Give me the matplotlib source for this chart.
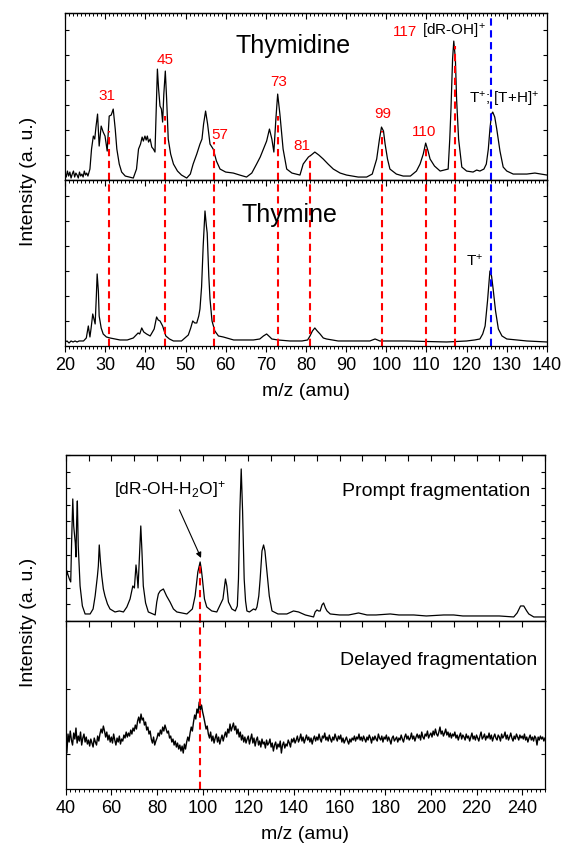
# ---------------------------------------------------------------------
# Mass spectra of thymidine / thymine and prompt / delayed fragmentation
# ---------------------------------------------------------------------

import matplotlib.pyplot as plt
import numpy as np
from matplotlib.ticker import MultipleLocator, FixedLocator, NullLocator

plt.rcParams['font.family'] = ['Liberation Sans', 'DejaVu Sans']
plt.rcParams['mathtext.fontset'] = 'custom'
plt.rcParams['mathtext.rm'] = 'Liberation Sans'
plt.rcParams['mathtext.it'] = 'Liberation Sans:italic'

# ---------------------------------------------------------------------
# DATA (intensity in arbitrary units)
# ---------------------------------------------------------------------

thymidine_mz = [20.0, 20.3, 20.6, 20.9, 21.2, 21.5, 21.8, 22.1, 22.4, 22.7, 23.0, 23.3, 23.6,
                23.9, 24.2, 24.5, 24.8, 25.1, 25.4, 25.7, 26.0,
                26.2, 26.6, 27.05, 27.4, 27.7, 28.1, 28.5, 29.0, 29.5, 29.96, 30.5, 31.0, 31.5,
                32.0, 32.5, 32.9, 33.5, 34.1, 35.0, 37.0, 37.8, 38.3, 38.8, 39.2, 39.5, 39.9,
                40.2, 40.5, 40.8, 41.2, 41.6, 42.0, 42.4, 42.7, 43.0, 43.3, 43.65, 44.0, 44.3,
                44.6, 44.97, 45.3, 45.7, 46.3, 47.0, 48.0, 49.0, 50.3, 51.2, 51.9, 52.8, 53.6,
                54.1, 54.5, 55.0, 55.5, 56.1, 56.9, 57.7, 58.6, 60.0, 61.9, 63.5, 65.2, 66.5,
                67.7, 68.6, 69.4, 70.2, 70.9, 71.5, 72.0, 72.5, 72.95, 73.5, 74.3, 75.2, 76.5,
                78.5, 79.3, 80.6, 81.3, 82.2, 83.2, 84.3, 85.5, 86.8, 88.5, 90.1, 93.0, 95.1,
                96.5, 97.6, 98.3, 98.8, 99.3, 99.7, 100.3, 100.9, 102.5, 104.2, 106.0, 107.5,
                108.4, 109.2, 109.8, 110.4, 110.9, 112.0, 113.4, 115.4, 115.8, 116.1, 116.5,
                116.8, 117.2, 117.5, 118.0, 118.8, 120.0, 121.6, 122.5, 123.3, 124.3, 124.9,
                125.4, 125.8, 126.2, 126.5, 127.0, 127.5, 128.3, 129.1, 130.0, 131.6, 135.0,
                137.0, 140.0]
thymidine_int = [7, 3, 9, 4, 8, 2, 6, 9, 3, 7, 5, 2, 8,
                 4, 6, 3, 9, 5, 7, 4, 8,
                 11, 31, 44, 41, 53, 66, 34, 54, 48, 44, 29, 64, 65,
                 71, 51, 31, 16, 8, 4, 2, 11, 31, 36, 43, 39, 44,
                 40, 44, 38, 41, 33, 31, 28, 71, 111, 91, 74, 71, 58,
                 86, 109, 81, 41, 26, 16, 9, 5, 2, 6, 16, 26, 36,
                 41, 56, 69, 56, 36, 31, 19, 11, 8, 7, 5, 3, 7,
                 16, 23, 31, 39, 51, 41, 28, 61, 86, 66, 31, 11, 7,
                 5, 16, 23, 25, 28, 25, 21, 16, 11, 7, 5, 3, 3,
                 6, 21, 41, 53, 49, 36, 21, 11, 6, 4, 4, 9,
                 16, 26, 37, 29, 21, 14, 9, 11, 41, 71, 121,
                 139, 121, 81, 41, 13, 9, 8, 10, 9, 11, 16,
                 31, 51, 66, 68, 63, 51, 29, 13, 9, 6, 6,
                 7, 5]

thymine_mz = [20.0, 20.5, 21.0, 21.5, 22.0, 22.5, 23.0, 23.5, 24.0, 24.6, 25.3, 25.8, 26.2,
              26.5, 26.9, 27.2, 27.5, 27.8, 28.0, 28.3, 28.5, 29.0, 29.5, 30.3, 31.2, 33.7,
              35.5, 37.0, 38.2, 38.6, 39.1, 39.6, 40.3, 41.2, 42.2, 42.8, 43.2, 43.65, 44.3,
              45.1, 46.0, 47.0, 49.0, 50.7, 51.3, 51.8, 52.3, 52.8, 53.3, 53.6, 54.0, 54.4,
              54.85, 55.2, 55.4, 55.8, 56.1, 56.6, 57.3, 58.2, 59.4, 62.0, 66.9, 68.5, 69.4,
              70.2, 71.0, 71.5, 73.0, 76.0, 79.0, 80.4, 81.0, 81.6, 82.2, 82.8, 83.5, 84.3,
              85.1, 88.0, 95.9, 97.2, 98.4, 105.0, 115.0, 120.0, 122.0, 123.3, 124.0, 124.6,
              125.2, 125.8, 126.2, 126.6, 127.2, 127.9, 128.8, 130.0, 135.0, 140.0]
thymine_int = [4, 5, 3, 5, 4, 5, 4, 5, 5, 5, 8, 20, 9,
               18, 32, 27, 22, 50, 72, 55, 30, 18, 12, 9, 8, 6,
               6, 8, 13, 12, 18, 14, 12, 10, 17, 29, 26, 25, 20,
               10, 7, 5, 5, 11, 18, 25, 23, 23, 30, 37, 59, 100,
               135, 120, 113, 70, 47, 25, 15, 10, 9, 6, 6, 7, 10,
               12, 9, 7, 6, 5, 5, 6, 10, 15, 18, 15, 12, 8,
               7, 5, 5, 7, 5, 5, 4, 5, 6, 7, 12, 20,
               45, 75, 70, 57, 35, 17, 10, 7, 5, 4]

prompt_mz = [40.0, 40.3, 40.6, 40.9, 41.3, 41.6, 42.0, 42.2, 42.6, 43.1, 43.5, 43.9, 44.2,
             44.5, 44.8, 45.1, 45.5, 46.3, 47.3, 48.5, 50.7, 52.0, 52.9, 53.9, 54.3, 54.7,
             55.2, 55.8, 56.5, 57.2, 58.3, 59.4, 61.6, 63.5, 65.3, 66.8, 68.2, 69.4, 70.1,
             70.8, 71.3, 71.7, 72.3, 72.9, 73.4, 74.0, 75.0, 76.2, 79.2, 79.9, 80.6, 81.4,
             82.8, 84.2, 85.7, 87.2, 88.7, 93.1, 95.5, 96.7, 97.9, 98.9, 99.4, 99.9, 100.8,
             101.8, 104.0, 106.2, 108.9, 110.0, 110.6, 111.3, 112.8, 114.3, 115.2, 115.7,
             116.3, 116.9, 117.5, 118.2, 118.8, 119.4, 120.5, 122.3, 123.2, 123.8, 124.6,
             125.2, 126.0, 126.7, 127.3, 128.2, 129.2, 130.4, 133.0, 136.9, 139.8, 142.0,
             145.0, 148.6, 149.3, 150.1, 150.8, 151.5, 152.3, 153.0, 153.8, 154.5, 155.9,
             160.0, 164.0, 168.3, 172.0, 176.0, 182.2, 186.0, 192.5, 198.0, 205.6, 210.0,
             214.0, 220.0, 226.0, 230.0, 236.3, 237.8, 239.3, 240.7, 242.0, 242.9, 245.1,
             250.0]
prompt_int = [49, 45, 50, 47, 44, 42, 40, 39, 80, 122, 95, 85, 78,
              64, 100, 120, 75, 35, 15, 7, 7, 12, 25, 45, 55, 76,
              60, 45, 32, 25, 17, 12, 9, 10, 9, 14, 22, 35, 33,
              56, 45, 33, 65, 95, 70, 35, 18, 9, 6, 19, 27, 30,
              32, 25, 19, 12, 9, 7, 12, 25, 49, 59, 52, 42, 22,
              14, 10, 9, 22, 42, 35, 19, 12, 10, 15, 42,
              110, 152, 110, 42, 20, 10, 9, 12, 11, 14, 25,
              42, 70, 76, 70, 49, 25, 10, 7, 7, 10, 9,
              6, 4, 9, 11, 10, 10, 16, 18, 13, 10, 7,
              6, 6, 8, 6, 6, 7, 6, 6, 5, 6, 6,
              5, 5, 5, 5, 4, 8, 15, 15, 10, 7, 4,
              4]

# delayed spectrum is sampled every 0.5 amu from 40 to 250
delayed_mz = np.arange(40.0, 250.25, 0.5)
delayed_int = [
    52, 36, 55, 47, 58, 49, 44, 56, 50, 61, 46, 53, 48, 57, 44, 51, 55, 47, 52, 45,
    49, 43, 50, 46, 42, 51, 47, 44, 53, 48, 55, 60, 56, 63, 58, 52, 57, 49, 54, 47,
    52, 46, 55, 49, 44, 51, 47, 53, 45, 50, 48, 54, 51, 57, 52, 56, 53, 59, 55, 61,
    58, 64, 60, 68, 72, 66, 75, 69, 71, 64, 67, 59, 62, 55, 58, 50, 46, 52, 44, 48,
    51, 56, 53, 59, 55, 62, 58, 64, 60, 56, 58, 51, 53, 47, 50, 44, 48, 42, 46, 40,
    44, 38, 43, 36, 45, 40, 47, 52, 48, 56, 62, 58, 67, 74, 70, 80, 76, 87, 79, 84,
    77, 72, 66, 60, 63, 55, 51, 57, 48, 53, 46, 51, 55, 47, 52, 45, 50, 54, 48, 53,
    57, 52, 60, 56, 65, 58, 62, 66, 59, 63, 55, 60, 52, 57, 49, 54, 47, 52, 46, 50,
    53, 45, 50, 55, 46, 51, 43, 49, 52, 44, 48, 42, 50, 45, 47, 41, 49, 44, 46, 50,
    42, 46, 38, 44, 47, 40, 45, 42, 48, 36, 44, 47, 41, 45, 43, 49, 46, 42, 50, 47,
    51, 46, 49, 53, 47, 50, 55, 48, 52, 46, 50, 54, 49, 52, 47, 51, 45, 50, 53, 48,
    52, 49, 55, 50, 47, 53, 51, 56, 49, 52, 48, 54, 50, 47, 52, 49, 55, 51, 48, 53,
    50, 54, 47, 51, 46, 49, 52, 48, 45, 50, 47, 51, 49, 53, 48, 52, 50, 55, 49, 52,
    48, 53, 50, 47, 52, 49, 54, 51, 46, 52, 49, 53, 50, 48, 55, 51, 49, 53, 47, 52,
    50, 54, 48, 52, 49, 45, 51, 53, 48, 50, 52, 47, 51, 49, 54, 50, 47, 52, 55, 50,
    53, 49, 51, 56, 50, 53, 48, 52, 55, 51, 54, 49, 57, 52, 50, 55, 53, 58, 51, 54,
    56, 52, 58, 54, 60, 55, 53, 57, 62, 55, 58, 53, 56, 60, 54, 57, 52, 56, 51, 55,
    53, 57, 51, 54, 49, 53, 56, 50, 54, 52, 49, 55, 51, 53, 48, 52, 56, 50, 53, 49,
    54, 51, 48, 53, 57, 50, 52, 55, 49, 53, 51, 56, 50, 54, 48, 52, 55, 51, 49, 54,
    52, 48, 55, 51, 53, 57, 50, 54, 49, 52, 56, 51, 48, 53, 50, 55, 52, 49, 54, 51,
    53, 50, 55, 49, 52, 47, 51, 54, 49, 52, 48, 53, 51, 44, 52, 49, 53, 50, 52, 48,
    51]

# fragment masses marked with red dashed lines, and where they start in the top panel
fragment_mz = [31, 45, 57, 73, 81, 99, 110, 117]
fragment_start = [49, 64, 38, 64, 24, 49, 33, 134]
fragment_labels = ["31", "45", "57", "73", "81", "99", "110", ""]
label_pos = [(30.4, 85), (44.9, 121), (58.6, 46), (73.2, 99), (78.9, 35),
             (99.1, 67), (109.5, 49), (0, 0)]
parent_mz = 126
delayed_mark = 99

red = "#FF0000"
blue = "#0000FF"
dash = (3.5, 2.2)


def set_ticks(axis, major, minor, direction, labels=False):
    axis.set_major_locator(MultipleLocator(major))
    axis.set_minor_locator(MultipleLocator(minor) if minor else NullLocator())
    axis.set_tick_params(which='both', direction=direction, labelsize=13)
    axis.set_tick_params(which='major', length=4, width=0.8)
    axis.set_tick_params(which='minor', length=2.2, width=0.7)
    if not labels:
        axis.set_ticklabels([])


def style_axes(ax, top_major, top_minor, bottom_major=None, bottom_minor=None):
    # bottom ticks (outward) live on the main axis, top ticks (inward) on a secondary one
    if bottom_major:
        set_ticks(ax.xaxis, bottom_major, bottom_minor, 'out', labels=True)
    else:
        ax.tick_params(axis='x', which='both', bottom=False, labelbottom=False)
    sec = ax.secondary_xaxis('top')
    set_ticks(sec.xaxis, top_major, top_minor, 'in')
    sec.spines['top'].set_linewidth(0.9)
    ax.tick_params(axis='y', which='both', left=True, right=True, labelleft=False,
                   direction='in', length=3, width=0.8)
    for s in ax.spines.values():
        s.set_linewidth(0.9)


fig = plt.figure(figsize=(5.63, 8.54), dpi=100)

# ---------------------------------------------------------------------
# upper figure: thymidine and thymine
# ---------------------------------------------------------------------
ax1 = fig.add_axes([0.1155, 0.788, 0.856, 0.1955])
ax2 = fig.add_axes([0.1155, 0.5937, 0.856, 0.1944])

ax1.plot(thymidine_mz, thymidine_int, color='black', lw=0.9)
ax2.plot(thymine_mz, thymine_int, color='black', lw=0.9)
for ax, top in ((ax1, 167), (ax2, 166)):
    ax.set_xlim(20, 140)
    ax.set_ylim(0, top)
    ax.yaxis.set_major_locator(MultipleLocator(25))

for m, s in zip(fragment_mz, fragment_start):
    ax1.plot([m, m], [0, s], color=red, lw=1.5, dashes=dash)
    ax2.axvline(m, color=red, lw=1.5, dashes=dash)
ax1.axvline(parent_mz, color=blue, lw=1.5, dashes=dash)
ax2.axvline(parent_mz, color=blue, lw=1.5, dashes=dash)

for lab, (x, y) in zip(fragment_labels, label_pos):
    if lab:
        ax1.text(x, y, lab, color=red, fontsize=11, ha='center', va='center')
ax1.text(107.7, 149, "117", color=red, fontsize=11, ha='right', va='center')
ax1.text(108.9, 150, "[dR-OH]$^{+}$", color='black', fontsize=11, ha='left', va='center')
ax1.text(129.2, 82, "T$^{+}$; [T+H]$^{+}$", fontsize=11, ha='center', va='center')
ax1.text(76.8, 135, "Thymidine", fontsize=18, ha='center', va='center')
ax2.text(76.0, 132, "Thymine", fontsize=18, ha='center', va='center')
ax2.text(122.1, 86, "T$^{+}$", fontsize=11, ha='center', va='center')

style_axes(ax1, 10, 1)
style_axes(ax2, 10, 1, 10, 1)
ax2.set_xlabel("m/z (amu)", fontsize=14, labelpad=6)
fig.text(0.05, 0.788, "Intensity (a. u.)", rotation=90, fontsize=14,
         ha='center', va='center')

# ---------------------------------------------------------------------
# lower figure: prompt and delayed fragmentation
# ---------------------------------------------------------------------
ax3 = fig.add_axes([0.1167, 0.2717, 0.8513, 0.1944])
ax4 = fig.add_axes([0.1167, 0.0749, 0.8513, 0.1967])

ax3.plot(prompt_mz, prompt_int, color='black', lw=0.9)
ax4.plot(delayed_mz, delayed_int, color='black', lw=1.0)
ax3.set_xlim(40, 250)
ax4.set_xlim(40, 250)
ax3.set_ylim(0, 166)
ax4.set_ylim(0, 168)
ax3.yaxis.set_major_locator(MultipleLocator(16.6))
ax4.yaxis.set_major_locator(FixedLocator([35, 100]))

ax3.plot([delayed_mark, delayed_mark], [0, 59], color=red, lw=1.5, dashes=dash)
ax4.axvline(delayed_mark, color=red, lw=1.5, dashes=dash)

ax3.annotate("[dR-OH-H$_2$O]$^{+}$", xy=(99.3, 63), xytext=(85.7, 132),
             fontsize=12.5, ha='center', va='center',
             arrowprops=dict(arrowstyle='-|>', color='black', lw=0.8,
                             mutation_scale=8, shrinkA=6, shrinkB=0))
ax3.text(243.6, 130, "Prompt fragmentation", fontsize=14, ha='right', va='center')
ax4.text(246.5, 130, "Delayed fragmentation", fontsize=14, ha='right', va='center')

style_axes(ax3, 10, None)
style_axes(ax4, 10, None, 20, 2)
ax4.set_xlabel("m/z (amu)", fontsize=14, labelpad=6)
fig.text(0.05, 0.2717, "Intensity (a. u.)", rotation=90, fontsize=14,
         ha='center', va='center')

fig.savefig("out.png", dpi=100)
